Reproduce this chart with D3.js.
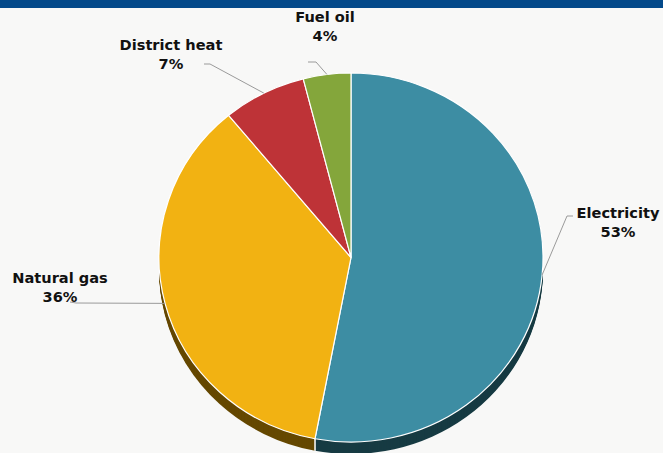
<!DOCTYPE html>
<html>
<head>
<meta charset="utf-8">
<script src="https://cdn.jsdelivr.net/npm/d3@7"></script>
<style>
  html, body { margin: 0; padding: 0; background: #f8f8f7; }
  svg { display: block; }
  .lbl { font-family: "DejaVu Sans", sans-serif; font-weight: bold; font-size: 14.6px; fill: #111; }
</style>
</head>
<body>
<svg id="chart" width="663" height="453"></svg>
<script>
// Energy source shares (%)
const categories = ["Electricity", "Natural gas", "District heat", "Fuel oil"];
const shares = [53, 36, 7, 4];
const topColors = ["#3d8da3", "#f2b212", "#be3337", "#84a63b"];
const sideColors = ["#173b43", "#654800", "#5c1a1b", "#41521c"];

const W = 663, H = 453;
const cx = 351, cy = 257.5, rx = 192, ry = 184.5, depth = 12;

// Label layout: anchor of the two-line label and the elbow of its connector
const labelLayout = {
  "Electricity":   { x: 618, y: 218, elbow: [[573, 216], [567, 216]] },
  "Natural gas":   { x: 60,  y: 283, elbow: [[70, 302], [76, 303]] },
  "District heat": { x: 171, y: 50,  elbow: [[204, 64], [210, 64]] },
  "Fuel oil":      { x: 325, y: 22,  elbow: [[308, 62], [316, 62]] }
};

const svg = d3.select("#chart");
svg.append("rect").attr("width", W).attr("height", H).attr("fill", "#f8f8f7");
svg.append("rect").attr("width", W).attr("height", 8).attr("fill", "#03498a");

const data = categories.map((c, i) => ({ name: c, value: shares[i], i }));
const pie = d3.pie().value(d => d.value).sort(null);
const arcs = pie(data);
const arc = d3.arc().innerRadius(0).outerRadius(rx);
const sy = ry / rx;

// Extruded side: stacked copies of the slices in the darker shade
for (let t = depth; t >= 1; t--) {
  svg.append("g")
    .attr("transform", `translate(${cx},${cy + t}) scale(1,${sy})`)
    .selectAll("path")
    .data(arcs)
    .join("path")
    .attr("d", arc)
    .attr("fill", d => sideColors[d.data.i]);
}

// Slice edges visible on the side wall
arcs.forEach(a => {
  [a.startAngle, a.endAngle].forEach(ang => {
    if (Math.cos(ang) < 0 && Math.abs(Math.sin(ang)) < 0.99) {
      const x = cx + rx * Math.sin(ang), y = cy - ry * Math.cos(ang);
      svg.append("line").attr("x1", x).attr("x2", x).attr("y1", y).attr("y2", y + depth)
        .attr("stroke", "#ffffff").attr("stroke-width", 1);
    }
  });
});

// Top face
svg.append("g")
  .attr("transform", `translate(${cx},${cy}) scale(1,${sy})`)
  .selectAll("path")
  .data(arcs)
  .join("path")
  .attr("d", arc)
  .attr("fill", d => topColors[d.data.i])
  .attr("stroke", "#ffffff")
  .attr("stroke-width", 1.2)
  .attr("vector-effect", "non-scaling-stroke");

// Connectors and labels
arcs.forEach(a => {
  const mid = (a.startAngle + a.endAngle) / 2;
  const px = cx + rx * Math.sin(mid), py = cy - ry * Math.cos(mid);
  const L = labelLayout[a.data.name];
  const pts = [...L.elbow, [px, py]];
  svg.append("path")
    .attr("d", d3.line()(pts))
    .attr("fill", "none")
    .attr("stroke", "#9a9a9a")
    .attr("stroke-width", 1);
  const txt = svg.append("text").attr("class", "lbl").attr("text-anchor", "middle");
  txt.append("tspan").attr("x", L.x).attr("y", L.y).text(a.data.name);
  txt.append("tspan").attr("x", L.x).attr("y", L.y + 19).text(a.data.value + "%");
});
</script>
</body>
</html>
